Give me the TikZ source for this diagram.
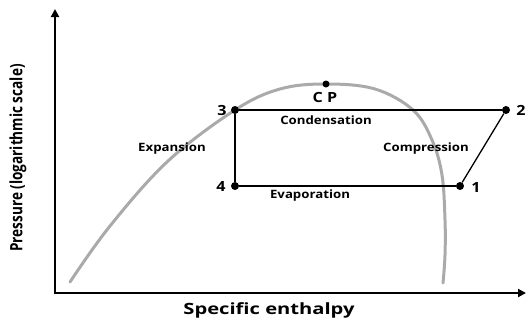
\documentclass[tikz,border=0pt]{standalone}
\usepackage{fontspec}
\usepackage{tikz}
\usetikzlibrary{arrows.meta}
\newfontfamily\lblfont[FakeStretch=1.15]{Open Sans}
\newfontfamily\axfont[FakeStretch=1.3]{Open Sans}
\newfontfamily\yfont[FakeStretch=0.8]{Open Sans}
\definecolor{domegray}{RGB}{170,170,170}
\tikzset{
    axisarrow/.style={
        line width=2.4pt,
        black,
        -{Triangle[length=8pt, width=8pt]}
    },
    % cycle lines and state points
    cycleline/.style={
        line width=1.3pt,
        black
    },
    statept/.style={
        circle,
        fill=black,
        inner sep=0pt,
        minimum size=8pt
    },
    procname/.style={
        font=\lblfont\bfseries\fontsize{11.5}{13}\selectfont
    },
    ptnum/.style={
        font=\lblfont\bfseries\fontsize{14}{16}\selectfont
    }
}

\begin{document}
\begin{tikzpicture}[x=1pt,y=-1pt]
    \useasboundingbox (0,0) rectangle (526,322);
    \coordinate (origin) at (55,293);
    \coordinate (ytop) at (55,9);
    \coordinate (xend) at (526,293);
    \draw[axisarrow] ([yshift=-1.2pt]origin) -- (ytop);
    \draw[axisarrow] ([xshift=-1.2pt]origin) -- (xend);

    % saturation dome
    \draw[domegray,line width=3pt,line cap=round] plot[smooth,tension=0.6] coordinates {
        (70,282) (110,226) (168,161) (235,110) (280,89) (326,84)
        (375,89) (413,110) (432,140) (442,175) (445,220) (445,255) (443,283)};

    \node[statept] (p3) at (235,110) {};
    \node[statept] (p2) at (506,110) {};
    \node[statept] (p4) at (235,186) {};
    \node[statept] (p1) at (460,186) {};
    \node[statept,minimum size=7pt] (cp) at (326,84) {};

    \draw[cycleline] (p3) -- (p2);
    \draw[cycleline] (p2) -- (p1);
    \draw[cycleline] (p1) -- (p4);
    \draw[cycleline] (p4) -- (p3);

    \node[ptnum] (n3) at (222,110) {3};
    \node[ptnum] (n2) at (521,110) {2};
    \node[ptnum] (n4) at (221,186) {4};
    \node[ptnum] (n1) at (476,187) {1};
    \node[ptnum] (cplbl) at (325,97) {C P};

    \node[procname] (cond) at (326,120) {Condensation};
    \node[procname] (comp) at (426,149) {Compression};
    \node[procname] (expn) at (172,149) {Expansion};
    \node[procname] (evap) at (310,196) {Evaporation};

    \node[font=\axfont\bfseries\fontsize{15.5}{17}\selectfont] (xlbl) at (269,310) {Specific enthalpy};
    \node[rotate=90,font=\yfont\bfseries\fontsize{17}{19}\selectfont] (ylbl) at (18,158) {Pressure (logarithmic scale)};
\end{tikzpicture}
\end{document}
